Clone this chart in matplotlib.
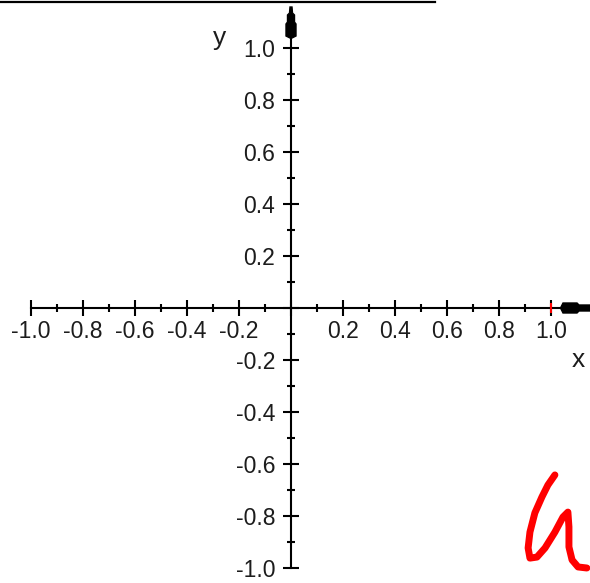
import numpy as np
import matplotlib.pyplot as plt
from matplotlib.patches import Polygon
from matplotlib.lines import Line2D
from matplotlib.ticker import FuncFormatter

plt.rcParams['font.family'] = ['Liberation Sans', 'DejaVu Sans']
plt.rcParams['axes.unicode_minus'] = False

# axis ranges and ticks
x_range = (-1.0, 1.0)
y_range = (-1.0, 1.0)
major_step = 0.2

# red freehand stroke (x, y in data units)
stroke_x = [1.015, 0.988, 0.965, 0.938, 0.919, 0.912, 0.919, 0.946, 0.977,
            1.015, 1.046, 1.065, 1.069, 1.069, 1.081, 1.104, 1.138]
stroke_y = [-0.642, -0.681, -0.727, -0.788, -0.862, -0.923, -0.962, -0.958,
            -0.923, -0.862, -0.804, -0.785, -0.842, -0.919, -0.969, -0.996,
            -1.000]

# red marker on the x axis
marker_x = [1.0]
marker_y = [0.0]

text_color = '#1c1c1c'
px = 1 / 260.0  # one pixel in data units

fig = plt.figure(figsize=(5.9, 5.83), dpi=100)
ax = fig.add_axes([0, 0, 1, 1])
ax.set_xlim(-291 * px, 299 * px)
ax.set_ylim(-275 * px, 308 * px)

for side in ['top', 'right']:
    ax.spines[side].set_visible(False)
ax.spines['left'].set_position(('data', 0))
ax.spines['bottom'].set_position(('data', 0))
ax.spines['left'].set_bounds(y_range[0], y_range[1] + 0.1)
ax.spines['bottom'].set_bounds(x_range[0], x_range[1] + 0.1)
for side in ['left', 'bottom']:
    ax.spines[side].set_linewidth(1.5)
    ax.spines[side].set_color('black')

ticks = np.round(np.arange(x_range[0], x_range[1] + 1e-4, major_step), 1)
minor = np.round(ticks[:-1] + major_step / 2, 1)
ax.set_xticks(ticks)
ax.set_yticks(ticks)
ax.set_xticks(minor, minor=True)
ax.set_yticks(minor, minor=True)

fmt = FuncFormatter(lambda v, pos: '' if abs(v) < 1e-9 else '%.1f' % v)
ax.xaxis.set_major_formatter(fmt)
ax.yaxis.set_major_formatter(fmt)

ax.tick_params(which='major', direction='inout', length=11, width=1.5,
               color='black', labelsize=16.5, labelcolor=text_color)
ax.tick_params(which='minor', direction='inout', length=6, width=1.5,
               color='black')
ax.tick_params(axis='x', which='major', pad=3)
ax.tick_params(axis='y', which='major', pad=6)

# arrow heads at the ends of both axes, outlined in pixel offsets
x_head = [(270, 1), (272, 5), (286, 5), (288, 3), (299, 3)]
x_poly = [(a * px, b * px) for a, b in x_head] + \
         [(a * px, -b * px) for a, b in reversed(x_head)]
ax.add_patch(Polygon(x_poly, closed=True, color='black', zorder=3))

y_head = [(270, 1), (272, 5), (284, 5), (286, 3.5), (293, 3.5), (295, 1.5),
          (301, 1)]
y_poly = [(b * px, a * px) for a, b in y_head] + \
         [(-b * px, a * px) for a, b in reversed(y_head)]
ax.add_patch(Polygon(y_poly, closed=True, color='black', zorder=3))

ax.text(1.104, -0.2, 'x', fontsize=19, color=text_color,
        ha='center', va='center')
ax.text(-0.275, 1.04, 'y', fontsize=19, color=text_color,
        ha='center', va='center')

ax.plot(marker_x, marker_y, marker='|', markersize=7, markeredgewidth=1.5,
        color='red', linestyle='none', zorder=4)

ax.plot(stroke_x, stroke_y, color='red', linewidth=5,
        solid_capstyle='round', solid_joinstyle='round', zorder=4,
        clip_on=False)

# rule along the top edge
fig.add_artist(Line2D([0, 435 / 590], [1 - 1.5 / 583, 1 - 1.5 / 583],
                      color='black', linewidth=1.6))

fig.savefig('out.png', dpi=100)
